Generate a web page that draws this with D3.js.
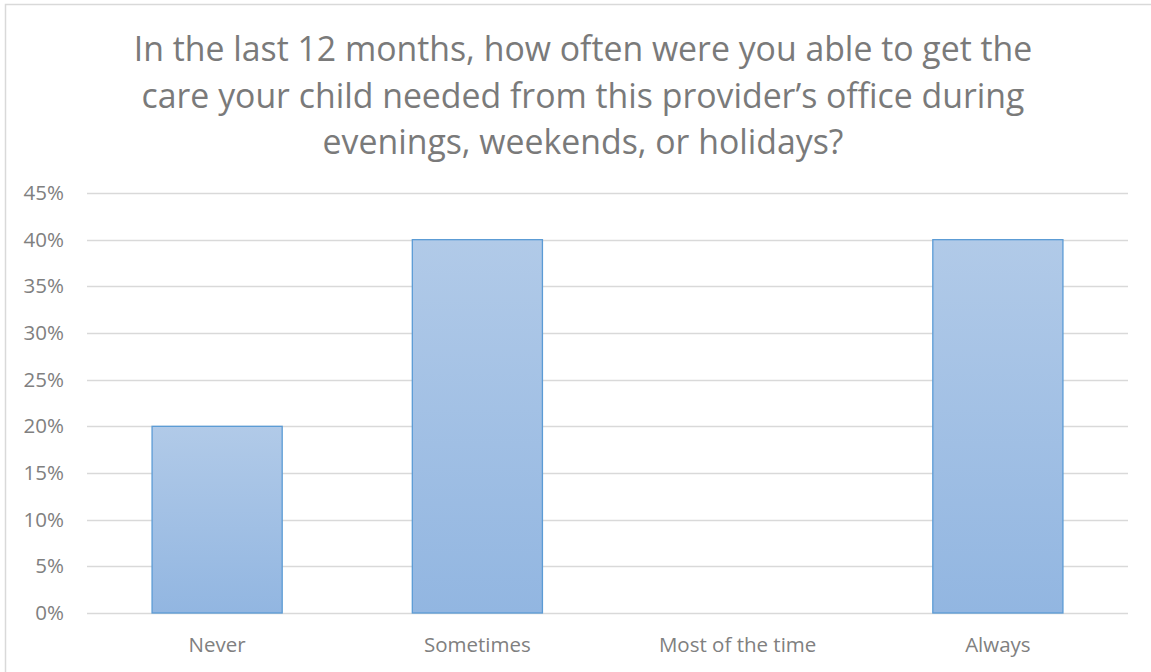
<!DOCTYPE html>
<html>
<head>
<meta charset="utf-8">
<script src="https://cdn.jsdelivr.net/npm/d3@7"></script>
<style>
  body { margin: 0; background: #fff; }
  text { font-family: "Open Sans", sans-serif; }
</style>
</head>
<body>
<div id="chart"></div>
<script>
const categories = ['Never', 'Sometimes', 'Most of the time', 'Always'];
const values = [0.20, 0.40, 0.00, 0.40];
const yTicks = [0, 0.05, 0.10, 0.15, 0.20, 0.25, 0.30, 0.35, 0.40, 0.45];
const titleLines = [
  'In the last 12 months, how often were you able to get the',
  'care your child needed from this provider\u2019s office during',
  'evenings, weekends, or holidays?'
];

const W = 1151, H = 672;
const margin = { top: 193, right: 23, bottom: 59, left: 87 };
const width = W - margin.left - margin.right;
const height = H - margin.top - margin.bottom;

const svg = d3.select('#chart').append('svg')
  .attr('width', W)
  .attr('height', H);

// outer chart frame
svg.append('rect')
  .attr('x', 5.5).attr('y', 4.5)
  .attr('width', W + 10).attr('height', H + 10)
  .attr('fill', '#fff')
  .attr('stroke', '#d9d9d9')
  .attr('stroke-width', 1.5);

const defs = svg.append('defs');
const grad = defs.append('linearGradient')
  .attr('id', 'barGrad')
  .attr('x1', 0).attr('y1', 0).attr('x2', 0).attr('y2', 1);
grad.append('stop').attr('offset', '0%').attr('stop-color', '#b1cae8');
grad.append('stop').attr('offset', '100%').attr('stop-color', '#92b6e1');

// title, fitted to the width of the original
const title = svg.append('g');
const tl = title.selectAll('text')
  .data(titleLines)
  .enter().append('text')
  .attr('x', 583)
  .attr('y', (d, i) => 61 + i * 46.5)
  .attr('text-anchor', 'middle')
  .attr('fill', '#7a7a7a')
  .style('font-size', '32px')
  .text(d => d);
const w0 = tl.node().getComputedTextLength();
tl.style('font-size', (32 * 899 / w0) + 'px');

const g = svg.append('g')
  .attr('transform', 'translate(' + margin.left + ',' + margin.top + ')');

const x = d3.scaleBand()
  .domain(categories)
  .range([0, width])
  .paddingInner(0.5)
  .paddingOuter(0.25);

const y = d3.scaleLinear()
  .domain([0, 0.45])
  .range([height, 0]);

// gridlines
g.append('g')
  .selectAll('line')
  .data(yTicks)
  .enter().append('line')
  .attr('x1', 0).attr('x2', width)
  .attr('y1', d => Math.round(y(d)) + 0.5)
  .attr('y2', d => Math.round(y(d)) + 0.5)
  .attr('stroke', '#d9d9d9')
  .attr('stroke-width', 1.3);

// bars
g.selectAll('.bar')
  .data(values.map((v, i) => ({ c: categories[i], v: v })).filter(d => d.v > 0))
  .enter().append('rect')
  .attr('class', 'bar')
  .attr('x', d => x(d.c))
  .attr('y', d => y(d.v))
  .attr('width', x.bandwidth())
  .attr('height', d => height - y(d.v))
  .attr('fill', 'url(#barGrad)')
  .attr('stroke', '#5b9bd5')
  .attr('stroke-width', 1.3);

// y axis labels
const yAxis = g.append('g')
  .call(d3.axisLeft(y).tickValues(yTicks).tickFormat(d3.format('.0%')).tickSize(0).tickPadding(23));
yAxis.select('.domain').remove();
yAxis.selectAll('text')
  .attr('fill', '#808080')
  .style('font-size', '20.5px')
  .style('font-family', '"Open Sans", sans-serif');

// x axis labels
const xAxis = g.append('g')
  .attr('transform', 'translate(0,' + height + ')')
  .call(d3.axisBottom(x).tickSize(0).tickPadding(24));
xAxis.select('.domain').remove();
xAxis.selectAll('text')
  .attr('fill', '#808080')
  .style('font-size', '20.5px')
  .style('font-family', '"Open Sans", sans-serif');
</script>
</body>
</html>
